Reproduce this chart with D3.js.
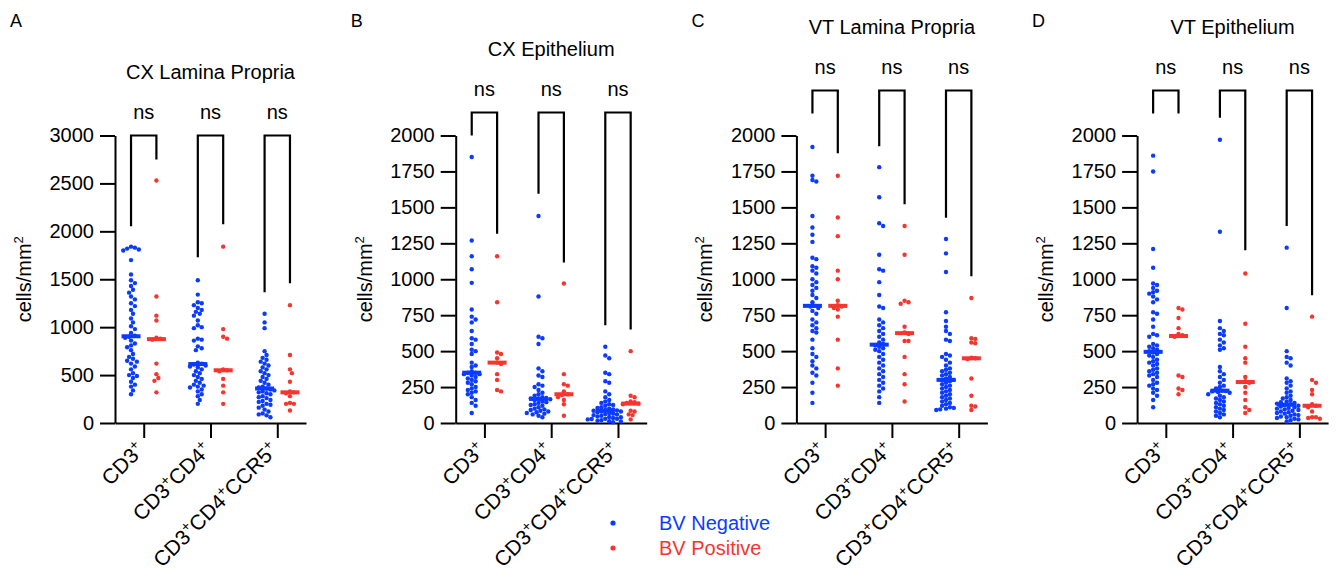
<!DOCTYPE html>
<html>
<head>
<meta charset="utf-8">
<script src="https://cdn.jsdelivr.net/npm/d3@7"></script>
<style>
  body { margin: 0; background: #fff; }
  svg { font-family: Arial, "Liberation Sans", Helvetica, sans-serif; }
  .axis path, .axis line { stroke: #000; stroke-width: 2; }
  .axis text { font-size: 20px; fill: #000; }
</style>
</head>
<body>
<svg id="chart" width="1338" height="582"></svg>
<script>
// categories and panel info
const categories = ["CD3+", "CD3+CD4+", "CD3+CD4+CCR5+"]
const panelLetters = ["A", "B", "C", "D"]
const panelTitles = ["CX Lamina Propria", "CX Epithelium", "VT Lamina Propria", "VT Epithelium"]
const yMaxes = [3000, 2000, 2000, 2000]
const ySteps = [500, 250, 250, 250]
const seriesNames = ["BV Negative", "BV Positive"]
const sigLabels = ["ns", "ns", "ns"]

// brackets (in data units): top line and leg ends [BV neg, BV pos] per category
const bracketTops = [3000, 2160, 2313, 2313]
const legsA = [[2052, 2750], [1729, 2073], [1365, 1458]]
const legsB = [[2000, 1317], [1595, 1116], [680, 650]]
const legsC = [[2153, 1877], [1926, 1521], [1428, 1021]]
const legsD = [[2153, 2153], [2123, 1201], [1370, 889]]

// A - CX Lamina Propria
const negA = [
  [1840, 1830, 1820, 1810, 1800, 1700, 1550, 1490, 1460, 1430, 1390, 1360, 1320, 1290, 1250, 1220, 1180, 1140, 1090, 1050, 1010, 980, 940, 910, 900, 890, 860, 830, 810, 790, 760, 720, 690, 670, 650, 640, 620, 590, 560, 520, 500, 490, 470, 430, 400, 380, 340, 300],
  [1490, 1340, 1260, 1250, 1230, 1200, 1180, 1160, 1140, 1120, 1070, 1020, 1000, 990, 880, 870, 860, 800, 780, 760, 630, 620, 610, 600, 590, 580, 560, 540, 520, 500, 480, 460, 440, 420, 400, 390, 380, 370, 350, 330, 300, 280, 240, 200],
  [1140, 1050, 990, 750, 710, 680, 660, 640, 620, 600, 580, 560, 540, 520, 500, 480, 460, 440, 420, 400, 380, 370, 360, 350, 340, 330, 320, 310, 300, 280, 270, 260, 240, 230, 220, 200, 190, 180, 160, 140, 120, 100, 90, 80, 60],
]
const posA = [
  [2530, 1320, 1120, 1070, 890, 880, 870, 620, 510, 470, 440, 320],
  [1840, 980, 900, 880, 560, 550, 540, 460, 390, 320, 200],
  [1230, 710, 560, 520, 430, 330, 320, 310, 280, 210, 200, 200, 130],
]

// B - CX Epithelium
const negB = [
  [1850, 1270, 1160, 1070, 975, 790, 740, 720, 700, 640, 590, 580, 550, 510, 500, 480, 420, 400, 390, 360, 350, 350, 340, 340, 330, 320, 310, 300, 290, 280, 270, 250, 240, 230, 220, 210, 200, 180, 160, 140, 120, 70],
  [1440, 880, 600, 590, 550, 380, 360, 330, 320, 270, 260, 250, 230, 210, 200, 190, 180, 175, 170, 170, 165, 160, 150, 145, 140, 130, 125, 120, 110, 100, 95, 90, 85, 80, 75, 70, 65, 60, 50, 40],
  [530, 470, 450, 350, 340, 290, 280, 220, 200, 180, 160, 150, 140, 130, 125, 120, 110, 105, 100, 95, 90, 88, 85, 80, 80, 75, 70, 65, 62, 60, 55, 50, 45, 42, 40, 35, 30, 30, 28, 25, 20, 15, 12, 10, 5],
]
const posB = [
  [1160, 840, 490, 480, 450, 420, 410, 340, 300, 230, 220],
  [970, 340, 270, 260, 220, 200, 195, 180, 160, 130, 50],
  [500, 190, 180, 150, 145, 140, 135, 130, 85, 80, 60, 55, 25],
]

// C - VT Lamina Propria
const negC = [
  [1920, 1720, 1690, 1680, 1440, 1360, 1310, 1260, 1150, 1140, 1090, 1080, 1060, 1040, 1000, 980, 960, 940, 920, 890, 870, 840, 815, 810, 800, 780, 760, 720, 700, 680, 660, 640, 630, 580, 520, 480, 460, 430, 400, 380, 350, 330, 280, 210, 140],
  [1780, 1570, 1390, 1370, 1170, 1070, 1060, 980, 890, 810, 800, 720, 700, 680, 660, 640, 620, 600, 580, 560, 550, 540, 530, 520, 510, 500, 480, 460, 440, 420, 400, 380, 360, 340, 320, 300, 280, 260, 240, 220, 180, 140],
  [1280, 1180, 1050, 770, 710, 670, 640, 620, 580, 570, 480, 470, 460, 440, 420, 400, 380, 370, 360, 350, 340, 330, 320, 310, 300, 300, 290, 280, 270, 260, 250, 240, 230, 220, 210, 200, 190, 180, 170, 160, 150, 140, 130, 120, 110, 105, 100, 95, 90],
]
const posC = [
  [1720, 1430, 1300, 1060, 1000, 850, 820, 810, 800, 790, 740, 580, 380, 260],
  [1370, 1170, 850, 840, 830, 670, 630, 620, 570, 570, 460, 340, 270, 150],
  [870, 590, 585, 560, 555, 455, 450, 445, 310, 190, 120, 115, 90],
]

// D - VT Epithelium
const negD = [
  [1860, 1750, 1210, 1080, 970, 960, 940, 920, 910, 900, 880, 860, 840, 770, 760, 720, 670, 620, 610, 600, 550, 540, 530, 520, 510, 500, 490, 480, 470, 460, 440, 430, 420, 410, 400, 380, 370, 360, 350, 340, 330, 320, 300, 280, 270, 260, 240, 230, 210, 190, 160, 110],
  [1970, 1330, 710, 660, 640, 620, 610, 580, 560, 540, 520, 510, 390, 360, 340, 320, 300, 280, 260, 250, 240, 225, 222, 220, 215, 210, 200, 190, 180, 170, 160, 150, 140, 130, 120, 110, 100, 90, 80, 70, 60, 50, 40],
  [1220, 800, 500, 460, 450, 420, 400, 310, 290, 280, 260, 240, 220, 210, 190, 180, 170, 160, 150, 145, 140, 135, 130, 125, 120, 115, 110, 105, 100, 95, 90, 85, 80, 75, 70, 65, 60, 55, 50, 45, 40, 35, 30, 25, 20, 10],
]
const posD = [
  [800, 790, 730, 660, 620, 610, 600, 330, 320, 240, 230, 200],
  [1040, 690, 530, 450, 420, 320, 290, 280, 250, 210, 160, 110, 90, 70],
  [740, 300, 280, 230, 200, 130, 120, 110, 80, 40, 40, 35, 30],
]

const negAll = [negA, negB, negC, negD]
const posAll = [posA, posB, posC, posD]
const legsAll = [legsA, legsB, legsC, legsD]

const colors = ["#0b3bff", "#f5352e"]
const svg = d3.select("#chart")

const firstAxisX = 115
const panelGap = 340.7
const plotW = 191
const yTop = 135.5
const yBottom = 423
const r = 2.2

// simple beeswarm: each point goes to the nearest free slot beside the centre
function swarm(vals, y, cx) {
  const pts = vals.map((v) => ({ v, y: y(v) })).sort((a, b) => a.y - b.y)
  const placed = []
  const d = 3.9
  const s = d / 2
  pts.forEach((p) => {
    for (let k = 0; k < 60; k++) {
      const cands = k == 0 ? [0] : [k * s, -k * s]
      let ok = null
      for (const off of cands) {
        const free = placed.every((q) => (q.x - off) ** 2 + (q.y - p.y) ** 2 >= d * d)
        if (free) { ok = off; break }
      }
      if (ok !== null) { p.x = ok; break }
    }
    placed.push(p)
  })
  return pts.map((p) => ({ v: p.v, x: cx + p.x, y: p.y }))
}

function addLabel(sel, label) {
  const parts = label.split(/(\+)/).filter((t) => t !== "")
  let up = false
  parts.forEach((t) => {
    if (t == "+") {
      sel.append("tspan").attr("font-size", 14).attr("dy", -8).text("+")
      up = true
    } else {
      sel.append("tspan").attr("dy", up ? 8 : 0).text(t)
      up = false
    }
  })
}

panelLetters.forEach((letter, i) => {
  const g = svg.append("g").attr("transform", `translate(${firstAxisX + i * panelGap},0)`)

  const x = d3.scalePoint().domain(categories).range([0, plotW]).padding(0.43)
  const y = d3.scaleLinear().domain([0, yMaxes[i]]).range([yBottom, yTop])
  const off = x.step() * 0.19

  // axes
  g.append("g")
    .attr("class", "axis")
    .call(
      d3.axisLeft(y)
        .tickValues(d3.range(0, yMaxes[i] + 1, ySteps[i]))
        .tickFormat(d3.format("d"))
        .tickSize(15)
        .tickSizeOuter(0)
        .tickPadding(6)
    )
  g.append("g")
    .attr("class", "axis")
    .attr("transform", `translate(0,${yBottom})`)
    .call(d3.axisBottom(x).tickSize(15).tickSizeOuter(0).tickFormat(""))

  // x labels
  categories.forEach((c) => {
    const t = g.append("text")
      .attr("text-anchor", "end")
      .attr("font-size", 21)
      .attr("transform", `translate(${x(c) + 2},${yBottom + 28}) rotate(-45)`)
    addLabel(t, c)
  })

  // y label
  const yl = g.append("text")
    .attr("text-anchor", "middle")
    .attr("font-size", 20)
    .attr("transform", `translate(-84,${(yTop + yBottom) / 2}) rotate(-90)`)
  yl.append("tspan").text("cells/mm")
  yl.append("tspan").attr("font-size", 13).attr("dy", -8).text("2")

  // panel letter, title
  g.append("text").attr("x", -105).attr("y", 27).attr("font-size", 18).text(letter)
  const topY = y(bracketTops[i])
  g.append("text")
    .attr("x", plotW / 2)
    .attr("y", topY - 57)
    .attr("text-anchor", "middle")
    .attr("font-size", 20)
    .text(panelTitles[i])

  // brackets
  categories.forEach((c, j) => {
    const xl = x(c) - off
    const xr = x(c) + off
    const legs = legsAll[i][j]
    g.append("path")
      .attr("d", `M${xl},${y(legs[0])} V${topY} H${xr} V${y(legs[1])}`)
      .attr("fill", "none")
      .attr("stroke", "#000")
      .attr("stroke-width", 2.2)
    g.append("text")
      .attr("x", x(c))
      .attr("y", topY - 17)
      .attr("text-anchor", "middle")
      .attr("font-size", 20)
      .text(sigLabels[j])
  })

  // points and medians
  const both = [negAll[i], posAll[i]]
  both.forEach((series, si) => {
    series.forEach((vals, j) => {
      const cx = x(categories[j]) + (si == 0 ? -off : off)
      g.append("g")
        .selectAll("circle")
        .data(swarm(vals, y, cx))
        .enter()
        .append("circle")
        .attr("cx", (d) => d.x)
        .attr("cy", (d) => d.y)
        .attr("r", r)
        .attr("fill", colors[si])
      g.append("rect")
        .attr("x", cx - 9.5)
        .attr("y", y(d3.median(vals)) - 2)
        .attr("width", 19)
        .attr("height", 4)
        .attr("fill", colors[si])
    })
  })
})

// legend
const legend = svg.append("g").attr("transform", "translate(613,523)")
seriesNames.forEach((name, k) => {
  legend.append("circle").attr("cx", 0).attr("cy", k * 25).attr("r", 2.6).attr("fill", colors[k])
  legend.append("text")
    .attr("x", 46)
    .attr("y", k * 25 + 7)
    .attr("font-size", 20)
    .attr("fill", colors[k])
    .text(name)
})
</script>
</body>
</html>
